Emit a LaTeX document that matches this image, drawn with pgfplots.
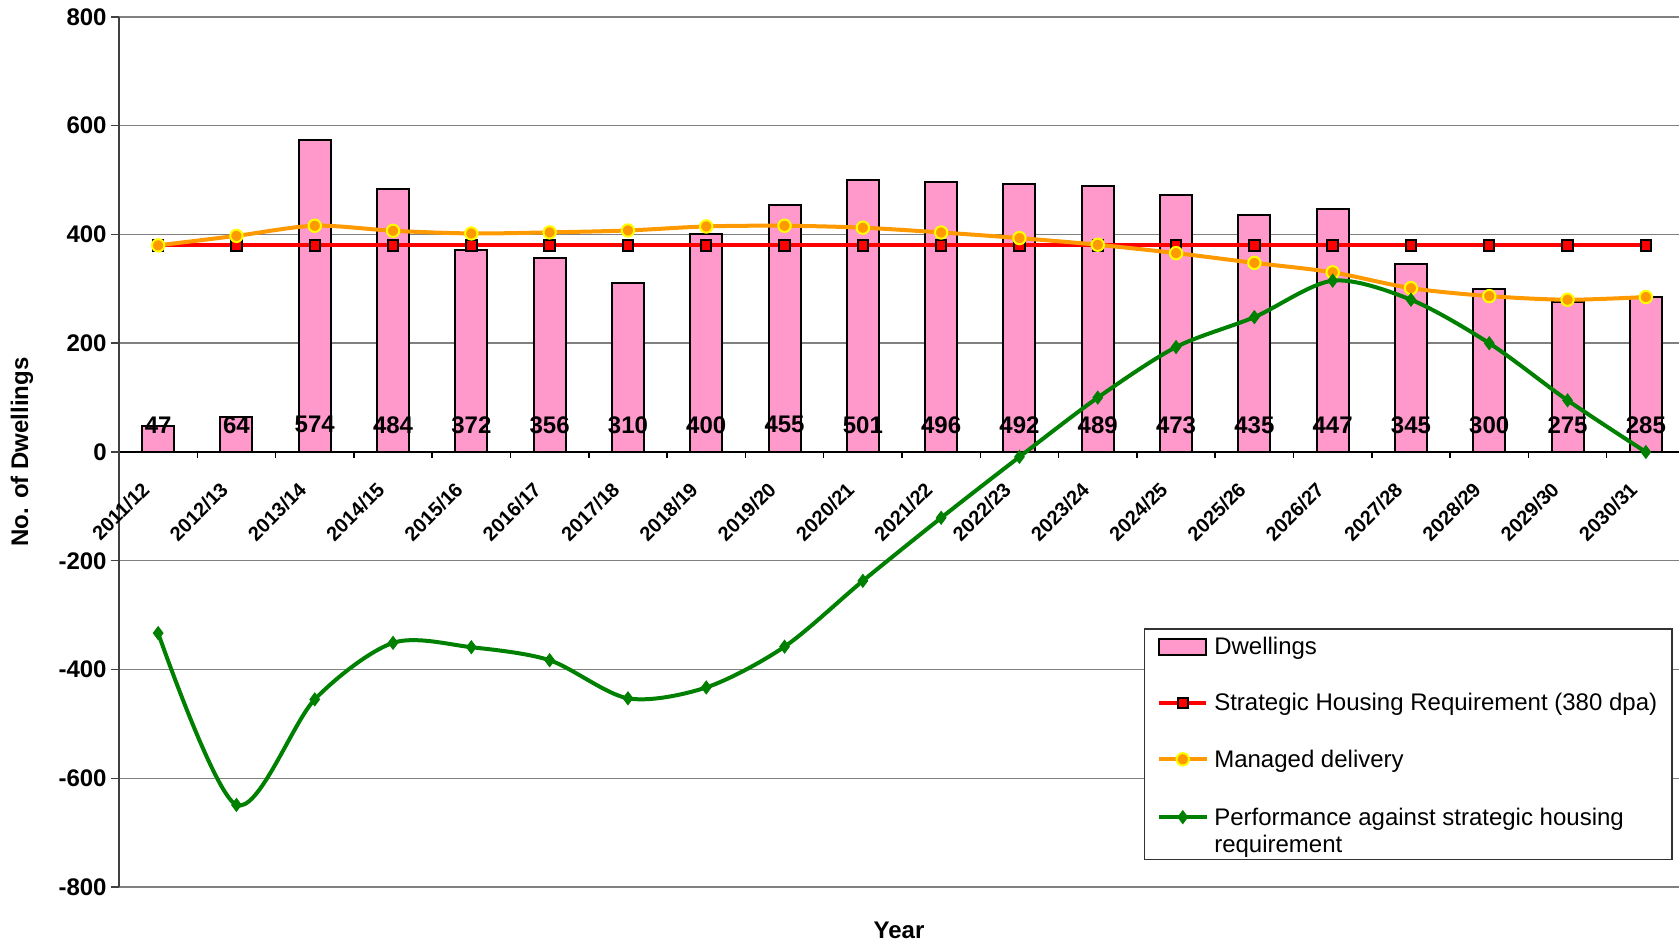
\documentclass[border=0pt]{standalone}
\usepackage{fontspec}
\setmainfont{Liberation Sans}
\usepackage{pgfplots}
\pgfplotsset{compat=1.18}

\definecolor{barpink}{HTML}{FF99CC}
\definecolor{reqred}{HTML}{FF0000}
\definecolor{mdorange}{HTML}{FF9900}
\definecolor{mdyellow}{HTML}{FFFF00}
\definecolor{perfgreen}{HTML}{008000}

\begin{document}
\begin{tikzpicture}
\begin{axis}[
  at={(0,0)}, anchor=south west,
  scale only axis,
  width=783pt, height=435pt,
  xmin=-0.5, xmax=19.5,
  ymin=-800, ymax=800,
  axis y line=left, axis x line=middle,
  axis line style={-},
  x axis line style={black, line width=1pt},
  y axis line style={black!75, line width=1pt},
  hide obscured x ticks=false, hide obscured y ticks=false,
  /pgf/number format/assume math mode=true,
  ytick={-800,-600,...,800},
  yticklabels={-800,-600,-400,-200,0,200,400,600,800},
  yticklabel style={font=\bfseries\fontsize{12}{14}\selectfont, inner sep=2pt},
  xtick={0,...,19},
  xticklabels={2011/12,2012/13,2013/14,2014/15,2015/16,2016/17,2017/18,2018/19,2019/20,2020/21,
    2021/22,2022/23,2023/24,2024/25,2025/26,2026/27,2027/28,2028/29,2029/30,2030/31},
  xticklabel style={font=\bfseries\fontsize{10}{12}\selectfont, inner sep=0pt,
    xshift=-6pt, yshift=-13pt, rotate=45, anchor=east},
  minor xtick={0.5,1.5,...,19.5},
  major x tick style={draw=none},
  minor x tick style={black, line width=0.75pt},
  major y tick style={black!75, line width=0.75pt},
  tick align=outside,
  major tick length=4pt, minor tick length=3pt,
  ymajorgrids,
  major grid style={black!50, line width=0.75pt},
  ylabel={No. of Dwellings},
  xlabel={Year},
  every axis y label/.style={at={(rel axis cs:0,0.5)}, xshift=-48.5pt, rotate=90,
    anchor=center, font=\bfseries\fontsize{12}{14}\selectfont},
  every axis x label/.style={at={(rel axis cs:0.5,0)}, yshift=-21.5pt, xshift=-1.5pt,
    anchor=center, font=\bfseries\fontsize{12}{14}\selectfont},
  legend style={at={(0.9923,0.031)}, anchor=south east,
    draw=black!80, line width=0.75pt, fill=white,
    font=\fontsize{12}{13.5}\selectfont,
    cells={anchor=base west},
    nodes={inner sep=1pt, text depth={}},
    inner xsep=6.5pt, inner ysep=3pt,
    row sep=15pt, column sep=2pt},
  legend image code/.code={\draw[mark repeat=2, mark phase=2, #1, yshift=4pt]
    plot coordinates {(0pt,0pt) (11.75pt,0pt) (23.5pt,0pt)};},
]

% completions per year
\addplot[ybar, bar width=16pt, fill=barpink, draw=black, line width=1pt,
  legend image code/.code={\draw[fill=barpink, draw=black, line width=1pt]
    (0pt,0pt) rectangle (23.5pt,8pt);}]
  coordinates {
  (0,47) (1,64) (2,574) (3,484) (4,372) (5,356) (6,310) (7,400) (8,455) (9,501)
  (10,496) (11,492) (12,489) (13,473) (14,435) (15,447) (16,345) (17,300) (18,275) (19,285)
};
\addlegendentry{Dwellings}

\addplot[reqred, line width=2pt, mark=square*,
  mark options={fill=reqred, draw=black, line width=1pt, scale=1.3}]
  coordinates {
  (0,380) (1,380) (2,380) (3,380) (4,380) (5,380) (6,380) (7,380) (8,380) (9,380)
  (10,380) (11,380) (12,380) (13,380) (14,380) (15,380) (16,380) (17,380) (18,380) (19,380)
};
\addlegendentry{Strategic Housing Requirement (380 dpa)}

\addplot[mdorange, line width=2pt, smooth, mark=*,
  mark options={fill=mdorange, draw=mdyellow, line width=1pt, scale=1.55}]
  coordinates {
  (0,380) (1,397.5) (2,416.1) (3,406.8) (4,401.9) (5,403.9) (6,407.4) (7,414.8) (8,416.1) (9,412.5)
  (10,403.7) (11,393.4) (12,381.1) (13,365.7) (14,347.8) (15,330.4) (16,301.3) (17,286.7) (18,280) (19,285)
};
\addlegendentry{Managed delivery}

\addplot[perfgreen, line width=2pt, smooth, mark=diamond*,
  mark options={fill=perfgreen, draw=perfgreen, line width=0.5pt, scale=1.6}]
  coordinates {
  (0,-333) (1,-649) (2,-455) (3,-351) (4,-359) (5,-383) (6,-453) (7,-433) (8,-358) (9,-237)
  (10,-121) (11,-9) (12,100) (13,193) (14,248) (15,315) (16,280) (17,200) (18,95) (19,0)
};
\addlegendentry{\raisebox{0pt}[\height][\dimexpr\depth-4.5pt\relax]{%
  \begin{tabular}[t]{@{}l@{}}Performance against strategic housing\\requirement\end{tabular}}}

% value labels of the bars
\addplot[draw=none, forget plot, nodes near coords, point meta=explicit,
  every node near coord/.append style={anchor=center, inner sep=0pt,
    font=\bfseries\fontsize{12}{14}\selectfont}]
  coordinates {
  (0,50)[47] (1,50)[64] (2,50)[574] (3,50)[484] (4,50)[372] (5,50)[356] (6,50)[310]
  (7,50)[400] (8,50)[455] (9,50)[501] (10,50)[496] (11,50)[492] (12,50)[489] (13,50)[473]
  (14,50)[435] (15,50)[447] (16,50)[345] (17,50)[300] (18,50)[275] (19,50)[285]
};
\end{axis}
\pgfresetboundingbox
\useasboundingbox (-59.5pt,-28.5pt) rectangle (780pt,443.5pt);
\end{tikzpicture}
\end{document}
